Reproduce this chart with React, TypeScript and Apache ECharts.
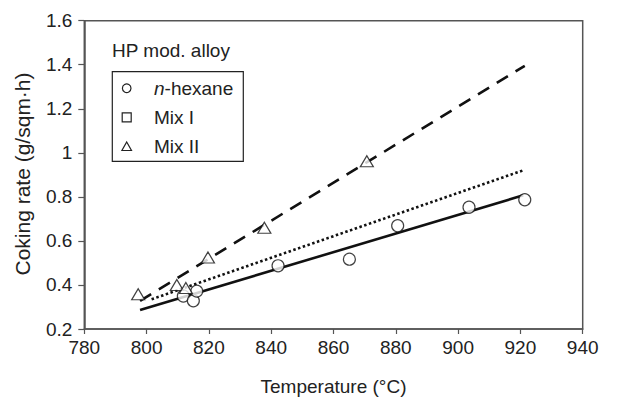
import React, { useEffect, useRef } from "react";
import * as echarts from "echarts";

const xTicks = [780, 800, 820, 840, 860, 880, 900, 920, 940];
const yTicks = [0.2, 0.4, 0.6, 0.8, 1, 1.2, 1.4, 1.6];

const hexanePoints: [number, number][] = [
  [811.8, 0.35], [815.0, 0.328], [816.1, 0.372], [842.2, 0.487],
  [865.1, 0.517], [880.6, 0.669], [903.5, 0.753], [921.4, 0.787],
];
const mix1Points: [number, number][] = [];
const mix2Points: [number, number][] = [
  [797.3, 0.358], [809.7, 0.4], [812.6, 0.386], [819.7, 0.525],
  [837.8, 0.66], [870.7, 0.962],
];

const hexaneFit: [number, number][] = [[797.9, 0.286], [920.9, 0.807]];
const mix1Fit: [number, number][] = [[801.6, 0.335], [921.2, 0.922]];
const mix2Fit: [number, number][] = [[797.9, 0.328], [921.4, 1.395]];

const FONT = "'Liberation Sans', Arial, sans-serif";
const TXT = "#222";
const AX = "#555";

export default function App() {
  const ref = useRef<HTMLDivElement>(null);
  useEffect(() => {
    if (!ref.current) return;
    const chart = echarts.init(ref.current, undefined, { renderer: "svg" });
    const markerStyle = { color: "#fff", borderColor: "#111", borderWidth: 1.2 };
    chart.setOption({
      animation: false,
      backgroundColor: "#fff",
      textStyle: { fontFamily: FONT },
      grid: {
        left: 84.3, right: 38.3, top: 20.7, bottom: 67.5,
        show: true, borderColor: AX, borderWidth: 1.5, backgroundColor: "transparent",
      },
      xAxis: {
        type: "value", min: xTicks[0], max: xTicks[xTicks.length - 1], interval: 20,
        name: "Temperature (°C)", nameLocation: "middle", nameGap: 48,
        nameTextStyle: { fontSize: 19, color: TXT, fontFamily: FONT },
        axisLine: { show: true, lineStyle: { color: AX, width: 1.5 } },
        axisTick: { show: true, length: 5, lineStyle: { color: AX, width: 1.2 } },
        axisLabel: { fontSize: 19, color: TXT, margin: 9, fontFamily: FONT },
        splitLine: { show: false },
      },
      yAxis: {
        type: "value", min: yTicks[0], max: yTicks[yTicks.length - 1], interval: 0.2,
        axisLine: { show: true, lineStyle: { color: AX, width: 1.5 } },
        axisTick: { show: true, length: 6, lineStyle: { color: AX, width: 1.2 } },
        axisLabel: { fontSize: 19, color: TXT, margin: 12, fontFamily: FONT },
        splitLine: { show: false },
      },
      series: [
        {
          name: "n-hexane fit", type: "line", data: hexaneFit, symbol: "none",
          lineStyle: { color: "#111", width: 2.6, type: "solid" }, z: 2,
        },
        {
          name: "Mix I fit", type: "line", data: mix1Fit, symbol: "none",
          lineStyle: { color: "#111", width: 2.6, type: [2.5, 2.5] }, z: 2,
        },
        {
          name: "Mix II fit", type: "line", data: mix2Fit, symbol: "none",
          lineStyle: { color: "#111", width: 2.6, type: [13, 9] }, z: 2,
        },
        {
          name: "n-hexane", type: "scatter", data: hexanePoints, symbol: "circle",
          symbolSize: 12, itemStyle: markerStyle, z: 3,
        },
        {
          name: "Mix I", type: "scatter", data: mix1Points, symbol: "rect",
          symbolSize: 11, itemStyle: markerStyle, z: 3,
        },
        {
          name: "Mix II", type: "scatter", data: mix2Points, symbol: "triangle",
          symbolSize: [13, 11], itemStyle: markerStyle, z: 3,
        },
      ],
      graphic: [
        {
          type: "text", x: 22.5, y: 174, rotation: Math.PI / 2,
          style: {
            text: "Coking rate (g/sqm·h)", fontSize: 21, fill: TXT, fontFamily: FONT,
            align: "center", verticalAlign: "middle",
          },
        },
        {
          type: "text", left: 112, top: 41,
          style: { text: "HP mod. alloy", fontSize: 19, fill: TXT, fontFamily: FONT },
        },
        {
          type: "rect", shape: { x: 112.3, y: 71.7, width: 131, height: 89.6 },
          style: { fill: "#fff", stroke: "#222", lineWidth: 1.2 }, z: 10,
        },
        {
          type: "circle", shape: { cx: 126.7, cy: 88.3, r: 4.3 },
          style: { fill: "#fff", stroke: "#222", lineWidth: 1.2 }, z: 11,
        },
        {
          type: "rect", shape: { x: 122.2, y: 112.8, width: 9, height: 9 },
          style: { fill: "#fff", stroke: "#222", lineWidth: 1.2 }, z: 11,
        },
        {
          type: "polygon", shape: { points: [[126.7, 142], [131.5, 150.5], [121.9, 150.5]] },
          style: { fill: "#fff", stroke: "#222", lineWidth: 1.2 }, z: 11,
        },
        {
          type: "text", x: 154, y: 88.3, z: 11,
          style: {
            text: "{i|n}-hexane", fontSize: 19, fill: TXT, fontFamily: FONT, verticalAlign: "middle",
            rich: { i: { fontStyle: "italic", fontSize: 19, fontFamily: FONT, fill: TXT } },
          },
        },
        {
          type: "text", x: 154, y: 117.3, z: 11,
          style: { text: "Mix I", fontSize: 19, fill: TXT, fontFamily: FONT, verticalAlign: "middle" },
        },
        {
          type: "text", x: 154, y: 146.7, z: 11,
          style: { text: "Mix II", fontSize: 19, fill: TXT, fontFamily: FONT, verticalAlign: "middle" },
        },
      ],
    });
    return () => chart.dispose();
  }, []);
  return <div ref={ref} style={{ width: 621, height: 401, position: "absolute", left: 0, top: 0 }} />;
}
